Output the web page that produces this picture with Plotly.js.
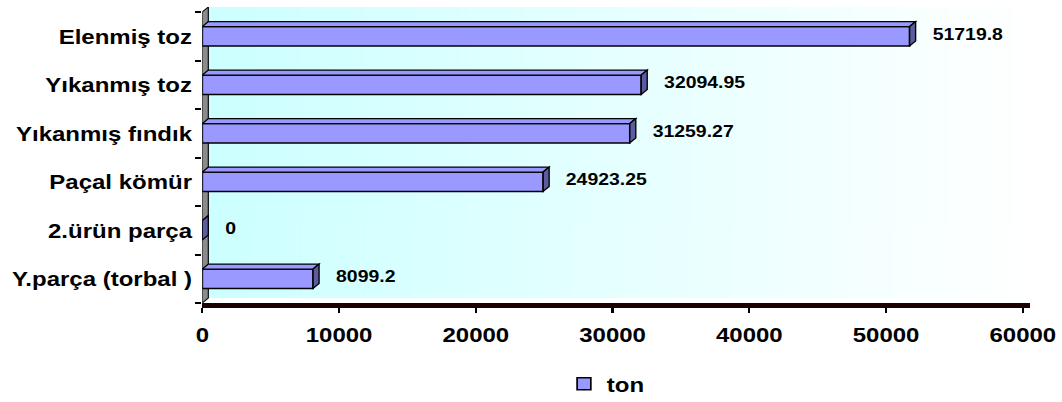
<!DOCTYPE html>
<html>
<head>
<meta charset="utf-8">
<script src="https://cdn.plot.ly/plotly-3.0.1.min.js"></script>
<style>
  html, body { margin: 0; padding: 0; background: #ffffff; overflow: hidden; }
  #wrap { width: 1062px; height: 402px; overflow: hidden; }
  #chart { height: 402px; transform-origin: 0 0; }
</style>
</head>
<body>
<div id="wrap"><div id="chart"></div></div>
<script>
// Production by product (ton)
const categories = ['Elenmiş toz', 'Yıkanmış toz', 'Yıkanmış fındık', 'Paçal kömür', '2.ürün parça', 'Y.parça (torbal )'];
const tonValues = [51719.8, 32094.95, 31259.27, 24923.25, 0, 8099.2];
const xTickValues = [0, 10000, 20000, 30000, 40000, 50000, 60000];
const seriesName = 'ton';

// the chart is laid out narrow and widened, giving the broad lettering of the original sheet
const STRETCH = 1.143;
const PAGE_W = 1062, H = 402;
const W = Math.round(PAGE_W / STRETCH);
const chartDiv = document.getElementById('chart');
chartDiv.style.width = W + 'px';
chartDiv.style.transform = `scaleX(${STRETCH})`;

// frame geometry (page px are divided by the stretch)
const ZERO_PX = 202 / STRETCH, SIXTY_PX = 1023 / STRETCH, RIGHT_PX = 1030 / STRETCH;
const M = { l: ZERO_PX, r: W - RIGHT_PX, t: 7, b: 99, autoexpand: false };
const plotW = W - M.l - M.r;
const plotH = H - M.t - M.b;
const X_MAX = 60000 * plotW / (SIXTY_PX - ZERO_PX);   // room past 60000 for the box depth
const DEPTH_X = 6 / STRETCH, DEPTH_Y = 5;              // depth of the 3-D box in px
const Y_BOTTOM = 5.5;
const pxPerCat = plotH - DEPTH_Y;
const Y_TOP = -0.5 - DEPTH_Y * 6 / pxPerCat;
const dxd = DEPTH_X * X_MAX / plotW;
const dyd = DEPTH_Y * 6 / pxPerCat;
const HALF = 0.2;

const font = { family: 'Liberation Sans, Arial, sans-serif', color: '#000000', weight: 'bold' };

// back wall gradient
function gradientUrl() {
  const c = document.createElement('canvas');
  c.width = 512; c.height = 2;
  const g = c.getContext('2d');
  const lg = g.createLinearGradient(0, 0, 512, 0);
  lg.addColorStop(0, '#ccffff');
  lg.addColorStop(1, '#ffffff');
  g.fillStyle = lg;
  g.fillRect(0, 0, 512, 2);
  return c.toDataURL('image/png');
}

const idx = categories.map((_, i) => i);

const shapes = [];
// side wall on the left
shapes.push({
  type: 'path', xref: 'x', yref: 'y', layer: 'below',
  path: `M0,${Y_BOTTOM} L0,-0.5 L${dxd},${-0.5 - dyd} L${dxd},${Y_BOTTOM - dyd} Z`,
  fillcolor: '#8c8c8c', line: { color: '#000000', width: 1 }
});
// top and end faces of every bar
tonValues.forEach((v, i) => {
  const yt = i - HALF, yb = i + HALF;
  shapes.push({
    type: 'path', xref: 'x', yref: 'y', layer: 'above',
    path: `M0,${yt} L${v},${yt} L${v + dxd},${yt - dyd} L${dxd},${yt - dyd} Z`,
    fillcolor: '#9999ff', line: { color: '#000000', width: 1.2 }
  });
  shapes.push({
    type: 'path', xref: 'x', yref: 'y', layer: 'above',
    path: `M${v},${yt} L${v + dxd},${yt - dyd} L${v + dxd},${yb - dyd} L${v},${yb} Z`,
    fillcolor: '#5c5c9e', line: { color: '#000000', width: 1.2 }
  });
});

const annotations = tonValues.map((v, i) => ({
  x: v, y: i, xref: 'x', yref: 'y',
  text: String(v), showarrow: false,
  xanchor: 'left', yanchor: 'middle',
  xshift: 18, yshift: 2,
  font: Object.assign({ size: 17 }, font)
}));

const trace = {
  type: 'bar', orientation: 'h',
  name: seriesName,
  x: tonValues, y: idx,
  width: 2 * HALF,
  marker: { color: '#9999ff', line: { color: '#000000', width: 1.5 } },
  hoverinfo: 'skip', cliponaxis: false
};

const legendLeftPx = 561 / STRETCH;
const layout = {
  width: W, height: H,
  margin: M,
  paper_bgcolor: '#ffffff',
  plot_bgcolor: 'rgba(0,0,0,0)',
  showlegend: true,
  legend: {
    orientation: 'h', x: (legendLeftPx - M.l) / plotW, xanchor: 'left', y: -0.274, yanchor: 'middle',
    font: Object.assign({ size: 21 }, font), bgcolor: 'rgba(0,0,0,0)'
  },
  xaxis: {
    range: [0, X_MAX], tickvals: xTickValues, tickformat: 'd',
    showgrid: false, zeroline: false,
    showline: true, linewidth: 5, linecolor: '#1f0000',
    ticks: 'outside', ticklen: 5, tickwidth: 2, tickcolor: '#000000',
    ticklabelstandoff: 4,
    tickfont: Object.assign({ size: 21 }, font),
    fixedrange: true
  },
  yaxis: {
    range: [Y_BOTTOM, Y_TOP], tickvals: idx, ticktext: categories,
    ticks: '', showgrid: false, zeroline: false, showline: false,
    ticklabelstandoff: 8,
    minor: {
      tickvals: [-0.5, 0.5, 1.5, 2.5, 3.5, 4.5, 5.5],
      ticks: 'outside', ticklen: 5, tickwidth: 2, tickcolor: '#000000', showgrid: false
    },
    tickfont: Object.assign({ size: 21 }, font),
    fixedrange: true
  },
  shapes: shapes,
  annotations: annotations,
  images: [{
    source: gradientUrl(), xref: 'paper', yref: 'paper',
    x: DEPTH_X / plotW, y: 1, sizex: 1 - DEPTH_X / plotW, sizey: 1 - DEPTH_Y / plotH,
    xanchor: 'left', yanchor: 'top', sizing: 'stretch', layer: 'below'
  }]
};

Plotly.newPlot('chart', [trace], layout, { staticPlot: true, displayModeBar: false });
</script>
</body>
</html>
